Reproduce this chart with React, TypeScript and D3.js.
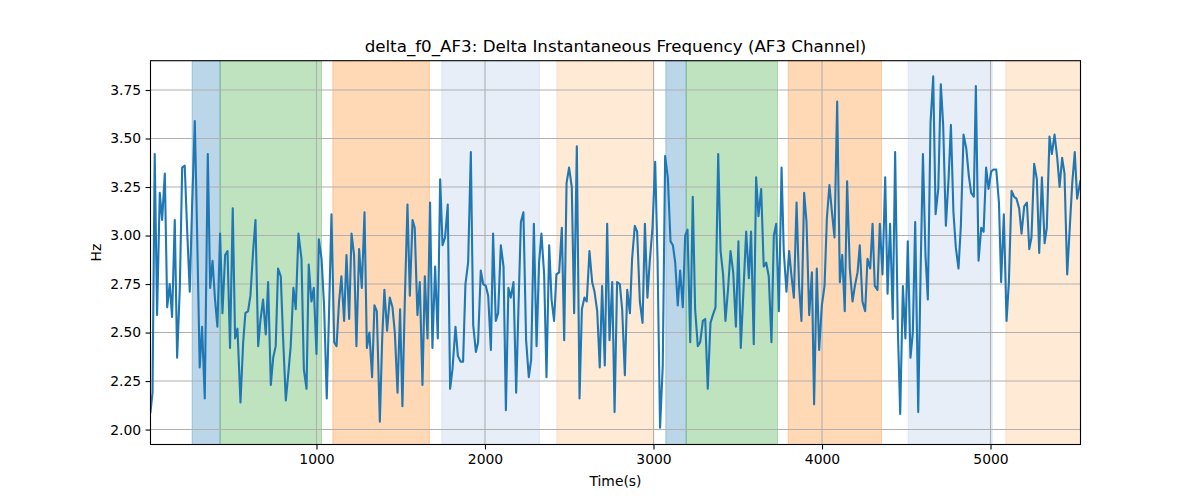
import React, { useEffect, useRef } from 'react';
import * as d3 from 'd3';

// Time (s) of each sample
const times = [
  15, 27, 40, 54, 70, 84, 100, 114, 129, 143, 159, 173, 189, 203, 218, 232, 248, 262, 278, 292,
  307, 321, 337, 355, 369, 383, 398, 412, 428, 442, 458, 472, 487, 503, 517, 531, 549, 565, 578, 594,
  608, 624, 638, 654, 667, 683, 699, 713, 729, 743, 758, 772, 788, 802, 818, 834, 847, 863, 877, 893,
  911, 925, 941, 954, 970, 984, 1000, 1014, 1030, 1045, 1061, 1075, 1089, 1105, 1119, 1134, 1148, 1164, 1178, 1194,
  1208, 1223, 1237, 1253, 1269, 1285, 1299, 1314, 1330, 1344, 1358, 1376, 1390, 1403, 1419, 1435, 1451, 1465, 1481, 1496,
  1510, 1524, 1540, 1554, 1570, 1583, 1599, 1613, 1629, 1643, 1659, 1674, 1688, 1704, 1720, 1734, 1748, 1763, 1779, 1793,
  1807, 1825, 1839, 1855, 1870, 1884, 1900, 1916, 1930, 1946, 1959, 1975, 1989, 2005, 2019, 2035, 2048, 2064, 2078, 2094,
  2110, 2124, 2139, 2153, 2169, 2185, 2199, 2213, 2228, 2244, 2260, 2274, 2290, 2306, 2321, 2335, 2351, 2365, 2381, 2395,
  2410, 2424, 2440, 2456, 2470, 2484, 2499, 2515, 2529, 2545, 2561, 2575, 2590, 2604, 2620, 2636, 2650, 2666, 2681, 2695,
  2711, 2725, 2739, 2755, 2769, 2784, 2800, 2814, 2830, 2844, 2860, 2873, 2889, 2903, 2919, 2935, 2949, 2964, 2978, 2994,
  3010, 3024, 3039, 3055, 3069, 3085, 3101, 3115, 3129, 3144, 3158, 3174, 3188, 3202, 3218, 3233, 3247, 3263, 3277, 3293,
  3307, 3322, 3338, 3352, 3368, 3384, 3398, 3413, 3427, 3443, 3457, 3473, 3489, 3504, 3518, 3534, 3550, 3566, 3579, 3595,
  3609, 3623, 3639, 3654, 3669, 3684, 3700, 3714, 3728, 3744, 3760, 3773, 3789, 3805, 3819, 3833, 3849, 3864, 3878, 3894,
  3908, 3924, 3940, 3953, 3969, 3983, 3999, 4015, 4029, 4044, 4060, 4074, 4090, 4106, 4120, 4135, 4149, 4165, 4181, 4195,
  4211, 4224, 4240, 4256, 4270, 4286, 4300, 4313, 4329, 4343, 4359, 4375, 4389, 4404, 4420, 4434, 4450, 4464, 4480, 4495,
  4509, 4525, 4539, 4553, 4571, 4585, 4599, 4614, 4628, 4644, 4660, 4674, 4690, 4705, 4719, 4735, 4751, 4765, 4780, 4794,
  4810, 4824, 4840, 4856, 4871, 4885, 4901, 4913, 4929, 4945, 4959, 4974, 4988, 5004, 5018, 5034, 5050, 5063, 5079, 5095,
  5109, 5125, 5140, 5154, 5170, 5184, 5200, 5216, 5230, 5243, 5259, 5275, 5289, 5305, 5321, 5334, 5350, 5364, 5380, 5396,
  5410, 5425, 5439, 5455, 5469, 5485, 5500, 5514, 5533,
];

// Delta instantaneous frequency (Hz) at each sample
const freqHz = [
  2.09, 2.19, 3.42, 2.59, 3.22, 3.08, 3.32, 2.63, 2.75, 2.58, 3.08, 2.37, 2.73, 3.35, 3.36, 3.04, 2.71, 3.16, 3.59, 3.00,
  2.32, 2.53, 2.16, 3.42, 2.73, 2.87, 2.67, 2.53, 3.01, 2.60, 2.90, 2.92, 2.42, 3.14, 2.47, 2.52, 2.14, 2.45, 2.60, 2.61,
  2.69, 2.92, 3.08, 2.43, 2.56, 2.67, 2.49, 2.76, 2.23, 2.37, 2.43, 2.83, 2.79, 2.47, 2.15, 2.30, 2.43, 2.73, 2.62, 3.01,
  2.88, 2.31, 2.21, 2.85, 2.66, 2.73, 2.39, 2.98, 2.88, 2.64, 2.16, 2.62, 3.11, 2.45, 2.43, 2.66, 2.79, 2.56, 2.90, 2.57,
  3.01, 2.90, 2.43, 2.93, 2.73, 3.12, 2.42, 2.50, 2.27, 2.64, 2.61, 2.04, 2.47, 2.72, 2.51, 2.68, 2.63, 2.50, 2.19, 2.62,
  2.12, 2.66, 3.16, 2.69, 3.08, 3.04, 2.59, 2.76, 2.23, 2.79, 2.47, 3.17, 2.42, 2.84, 2.47, 3.29, 2.95, 2.99, 3.16, 2.21,
  2.31, 2.53, 2.38, 2.35, 2.35, 2.75, 2.86, 3.43, 2.54, 2.40, 2.45, 2.82, 2.75, 2.74, 2.69, 2.41, 3.01, 2.56, 2.60, 2.95,
  2.84, 2.10, 2.73, 2.68, 2.76, 2.19, 2.64, 3.07, 3.12, 2.46, 2.27, 2.36, 3.06, 2.43, 2.86, 3.01, 2.80, 2.27, 2.95, 2.67,
  2.56, 2.80, 2.81, 3.04, 2.46, 3.27, 3.35, 3.25, 2.60, 3.46, 2.16, 2.62, 2.68, 2.66, 2.92, 2.76, 2.71, 2.61, 2.32, 2.74,
  2.33, 3.06, 2.46, 2.76, 2.09, 2.76, 2.75, 2.62, 2.28, 2.72, 2.60, 2.88, 3.05, 3.02, 2.66, 2.55, 3.06, 2.68, 2.87, 3.04,
  3.38, 2.88, 2.01, 2.33, 3.41, 3.30, 2.97, 2.95, 2.86, 2.64, 2.82, 2.63, 3.00, 3.03, 2.45, 3.20, 2.62, 2.43, 2.45, 2.56,
  2.57, 2.21, 2.55, 2.59, 2.63, 3.42, 2.92, 2.80, 2.56, 2.73, 2.92, 2.81, 2.53, 2.97, 2.42, 2.72, 3.02, 2.78, 3.02, 2.44,
  3.30, 3.10, 3.24, 2.84, 2.86, 2.79, 2.45, 3.00, 3.06, 2.61, 3.35, 2.92, 2.71, 2.92, 2.79, 2.68, 3.17, 2.74, 2.56, 3.22,
  3.07, 2.59, 2.81, 2.13, 2.83, 2.41, 2.64, 2.74, 3.09, 3.26, 3.11, 2.99, 3.69, 2.76, 2.90, 2.61, 3.28, 2.83, 2.66, 2.74,
  2.81, 2.95, 2.66, 2.61, 2.88, 2.83, 3.06, 2.74, 2.72, 3.06, 2.80, 3.30, 2.70, 3.06, 2.57, 3.43, 2.52, 2.08, 2.74, 2.47,
  2.97, 2.37, 2.50, 3.07, 2.09, 2.81, 3.42, 2.90, 2.67, 3.58, 3.82, 3.11, 3.24, 3.78, 3.57, 3.05, 3.29, 3.57, 3.12, 2.94,
  2.83, 3.05, 3.52, 3.45, 3.31, 3.22, 3.20, 3.77, 2.87, 3.04, 3.02, 3.35, 3.24, 3.33, 3.34, 3.34, 3.17, 2.76, 3.11, 2.56,
  2.76, 3.23, 3.20, 3.19, 3.14, 3.01, 3.15, 3.17, 2.93, 2.99, 3.37, 3.29, 2.91, 3.30, 2.96, 3.04, 3.51, 3.42, 3.52, 3.40,
  3.25, 3.40, 3.32, 2.80, 3.02, 3.27, 3.43, 3.19, 3.28,
];

// Shaded condition intervals (s)
const spanStart = [262, 428, 1097, 1744, 2426, 3073, 3194, 3799, 4511, 5091];
const spanEnd = [428, 1030, 1670, 2323, 3003, 3194, 3736, 4353, 5010, 5534];
const spanColour = ['#1f77b4', '#2ca02c', '#ff7f0e', '#aec7e8', '#ffbb78', '#1f77b4', '#2ca02c', '#ff7f0e', '#aec7e8', '#ffbb78'];

const xTicks = [1000, 2000, 3000, 4000, 5000];
const yTicks = [2.0, 2.25, 2.5, 2.75, 3.0, 3.25, 3.5, 3.75];

const title = 'delta_f0_AF3: Delta Instantaneous Frequency (AF3 Channel)';

const App: React.FC = () => {
  const svgRef = useRef<SVGSVGElement>(null);

  useEffect(() => {
    const svg = d3.select(svgRef.current);
    svg.selectAll('*').remove();

    const left = 150.5;
    const right = 1080.5;
    const top = 60.7;
    const bottom = 444.5;
    const font = 'DejaVu Sans, sans-serif';

    const x = d3.scaleLinear().domain([15, 5534]).range([left, right]);
    const y = d3.scaleLinear().domain([1.923, 3.901]).range([bottom, top]);

    const clipId = 'plot-clip';
    svg.append('clipPath').attr('id', clipId)
      .append('rect')
      .attr('x', left).attr('y', top)
      .attr('width', right - left).attr('height', bottom - top);

    // Shaded intervals
    svg.append('g')
      .attr('clip-path', `url(#${clipId})`)
      .selectAll('rect')
      .data(spanStart.map((s, i) => ({ s, e: spanEnd[i], c: spanColour[i] })))
      .enter().append('rect')
      .attr('x', d => x(d.s))
      .attr('width', d => x(d.e) - x(d.s))
      .attr('y', top)
      .attr('height', bottom - top)
      .attr('fill', d => d.c)
      .attr('fill-opacity', 0.3)
      .attr('stroke', d => d.c)
      .attr('stroke-opacity', 0.3)
      .attr('stroke-width', 1);

    // Grid
    const grid = svg.append('g');
    grid.selectAll('.gx')
      .data(xTicks)
      .enter().append('line')
      .attr('x1', d => x(d)).attr('x2', d => x(d))
      .attr('y1', top).attr('y2', bottom)
      .attr('stroke', '#b0b0b0').attr('stroke-width', 1.1);
    grid.selectAll('.gy')
      .data(yTicks)
      .enter().append('line')
      .attr('x1', left).attr('x2', right)
      .attr('y1', d => y(d)).attr('y2', d => y(d))
      .attr('stroke', '#b0b0b0').attr('stroke-width', 1.1);

    // Series
    const line = d3.line<number>()
      .x((_d, i) => x(times[i]))
      .y(d => y(d));

    svg.append('path')
      .datum(freqHz)
      .attr('clip-path', `url(#${clipId})`)
      .attr('d', line)
      .attr('fill', 'none')
      .attr('stroke', '#1f77b4')
      .attr('stroke-width', 2.1)
      .attr('stroke-linejoin', 'round')
      .attr('stroke-linecap', 'square');

    // Frame
    svg.append('rect')
      .attr('x', left).attr('y', top)
      .attr('width', right - left).attr('height', bottom - top)
      .attr('fill', 'none').attr('stroke', 'black').attr('stroke-width', 1.1);

    // X axis
    const xAxis = svg.append('g').attr('transform', `translate(0,${bottom})`);
    xAxis.call(d3.axisBottom(x).tickValues(xTicks).tickSize(4.9).tickPadding(4.5).tickFormat(d3.format('d')));
    xAxis.select('.domain').remove();
    xAxis.selectAll('line').attr('stroke', 'black').attr('stroke-width', 1.1);
    xAxis.selectAll('text').attr('font-family', font).attr('font-size', 13.9).attr('fill', 'black');

    // Y axis
    const yAxis = svg.append('g').attr('transform', `translate(${left},0)`);
    yAxis.call(d3.axisLeft(y).tickValues(yTicks).tickSize(4.9).tickPadding(4.5).tickFormat(d3.format('.2f')));
    yAxis.select('.domain').remove();
    yAxis.selectAll('line').attr('stroke', 'black').attr('stroke-width', 1.1);
    yAxis.selectAll('text').attr('font-family', font).attr('font-size', 13.9).attr('fill', 'black');

    // Labels
    svg.append('text')
      .attr('x', (left + right) / 2).attr('y', 52)
      .attr('text-anchor', 'middle')
      .attr('font-family', font).attr('font-size', 16.7)
      .text(title);

    svg.append('text')
      .attr('x', (left + right) / 2).attr('y', 486)
      .attr('text-anchor', 'middle')
      .attr('font-family', font).attr('font-size', 13.9)
      .text('Time(s)');

    svg.append('text')
      .attr('transform', `translate(101,${(top + bottom) / 2}) rotate(-90)`)
      .attr('text-anchor', 'middle')
      .attr('font-family', font).attr('font-size', 13.9)
      .text('Hz');
  }, []);

  return (
    <div style={{ position: 'absolute', left: 0, top: 0, width: 1200, height: 500, background: 'white' }}>
      <svg ref={svgRef} width={1200} height={500}></svg>
    </div>
  );
};

export default App;
